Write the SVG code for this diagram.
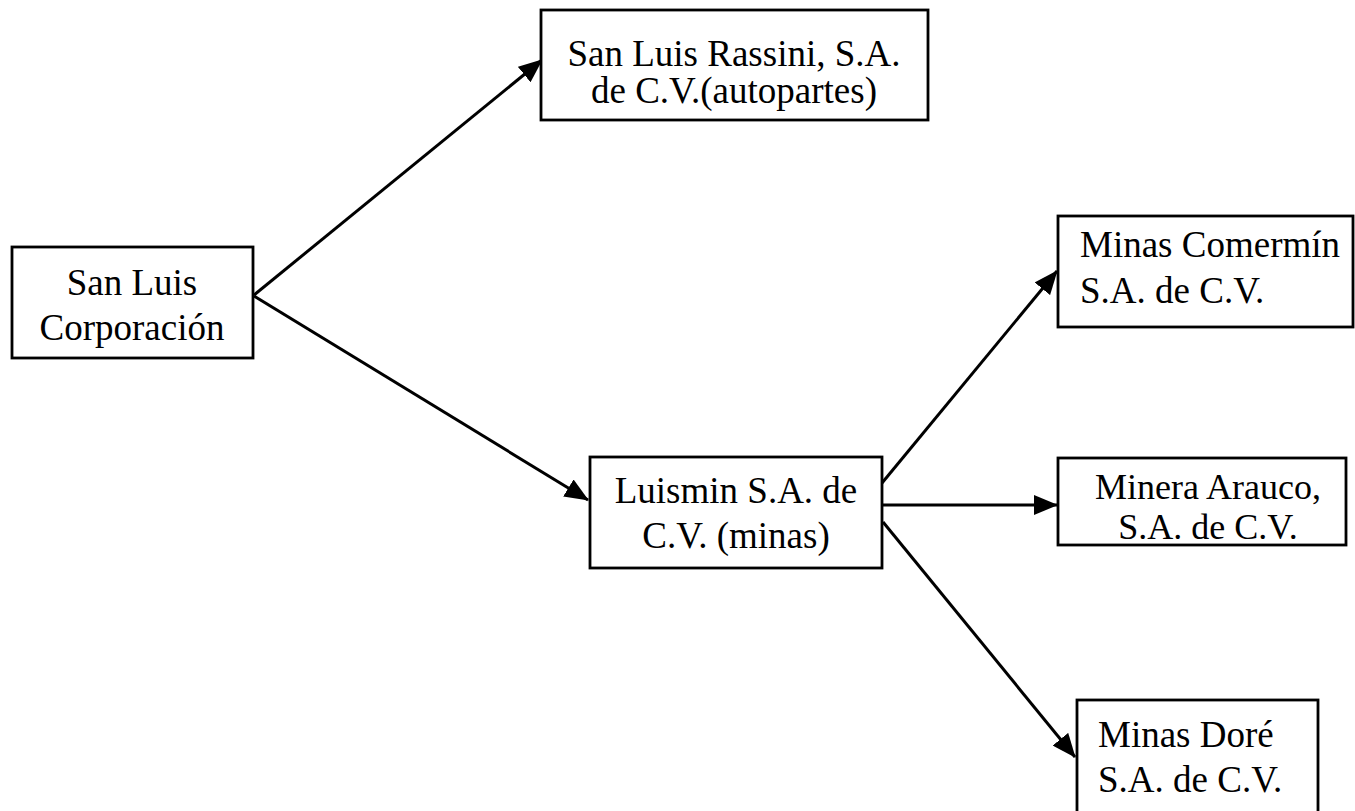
<svg xmlns="http://www.w3.org/2000/svg" width="1355" height="811" viewBox="0 0 1355 811">
<style>
.box{fill:#fff;stroke:#000;stroke-width:2.8}
.t{font-family:"Liberation Serif","Times New Roman",serif;font-size:37px;fill:#000}
.c{text-anchor:middle}
.edge{stroke:#000;stroke-width:3;fill:none;marker-end:url(#ah)}
</style>
<defs>
<marker id="ah" markerUnits="userSpaceOnUse" markerWidth="24" markerHeight="20" viewBox="0 0 24 20" refX="23" refY="10" orient="auto">
<path d="M0,0 L24,10 L0,20 Z" fill="#000"/>
</marker>
</defs>
<rect width="1355" height="811" fill="#fff"/>
<g id="connectors">
<line class="edge" x1="254" y1="295" x2="542" y2="60"/>
<line class="edge" x1="254" y1="296" x2="588" y2="500"/>
<line class="edge" x1="882" y1="483" x2="1057" y2="271"/>
<line class="edge" x1="882" y1="505" x2="1057" y2="505"/>
<line class="edge" x1="883" y1="522" x2="1075" y2="757"/>
</g>
<g id="corp">
<rect class="box" x="12" y="247" width="241" height="111"/>
<text class="t c" x="132" y="295">San Luis</text>
<text class="t c" x="132" y="340">Corporación</text>
</g>
<g id="rassini">
<rect class="box" x="541" y="10" width="387" height="110"/>
<text class="t c" x="734" y="66">San Luis Rassini, S.A.</text>
<text class="t c" x="734" y="103">de C.V.(autopartes)</text>
</g>
<g id="luismin">
<rect class="box" x="590" y="457" width="292" height="111"/>
<text class="t c" x="736" y="503">Luismin S.A. de</text>
<text class="t c" x="736" y="548">C.V. (minas)</text>
</g>
<g id="comermin">
<rect class="box" x="1058" y="216" width="295" height="111"/>
<text class="t" x="1080" y="257">Minas Comermín</text>
<text class="t" x="1080" y="303">S.A. de C.V.</text>
</g>
<g id="arauco">
<rect class="box" x="1058" y="458" width="288" height="87"/>
<text class="t c" x="1208" y="499" style="font-size:36px">Minera Arauco,</text>
<text class="t c" x="1208" y="539" style="font-size:36px">S.A. de C.V.</text>
</g>
<g id="dore">
<rect class="box" x="1077" y="700" width="241" height="130"/>
<text class="t" x="1098" y="747">Minas Doré</text>
<text class="t" x="1098" y="792">S.A. de C.V.</text>
</g>
</svg>
